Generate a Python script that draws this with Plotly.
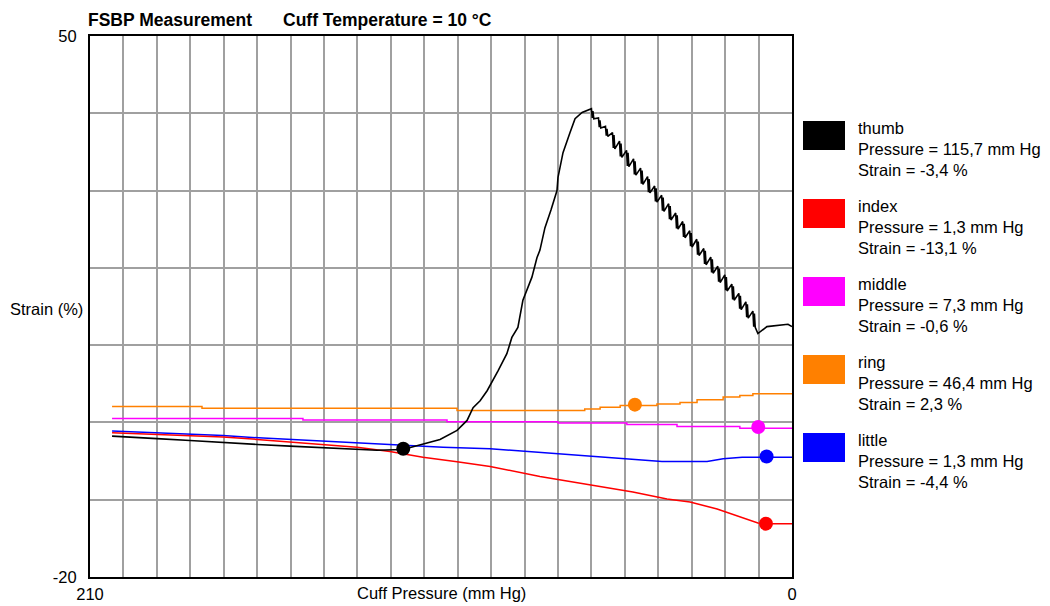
import plotly.graph_objects as go

# ---------------- data (pressure in mm Hg, strain in %) ----------------
thumb_rise_p = [203.4, 195.0, 190.0, 180.1, 170.2, 160.0, 150.2, 140.3, 130.1, 124.1, 116.4,
                110.4, 105.3, 100.2, 97.2, 95.4, 93.3, 91.2, 89.7, 87.9, 85.3, 83.8, 82.0,
                80.5, 77.8, 76.3, 75.4, 73.9, 72.1, 70.3, 70.0, 68.5, 66.4, 64.9, 62.8]
thumb_rise_s = [-1.77, -2.03, -2.10, -2.33, -2.63, -2.85, -3.06, -3.28, -3.50, -3.60, -3.50,
                -2.85, -2.20, -1.03, 0.26, 1.9, 2.8, 4.1, 5.2, 6.7, 8.9, 11.0, 12.3,
                15.8, 18.8, 21.3, 22.3, 25.2, 27.5, 30.0, 31.7, 34.9, 37.5, 39.3, 40.1]
thumb_fall_p = [60.0, 59.75, 59.55, 59.3, 57.9, 57.65, 57.45, 57.2,
                55.8, 55.55, 55.35, 55.1, 53.7, 53.45, 53.25, 53.0,
                51.6, 51.35, 51.15, 50.9, 49.5, 49.25, 49.05, 48.8,
                47.4, 47.15, 46.95, 46.7, 45.3, 45.05, 44.85, 44.6,
                43.2, 42.95, 42.75, 42.5, 41.1, 40.85, 40.65, 40.4,
                39.0, 38.75, 38.55, 38.3, 36.9, 36.65, 36.45, 36.2,
                34.8, 34.55, 34.35, 34.1, 32.7, 32.45, 32.25, 32.0,
                30.6, 30.35, 30.15, 29.9, 28.5, 28.25, 28.05, 27.8,
                26.4, 26.15, 25.95, 25.7, 24.3, 24.05, 23.85, 23.6,
                22.2, 21.95, 21.75, 21.5, 20.1, 19.85, 19.65, 19.4,
                18.0, 17.75, 17.55, 17.3, 15.9, 15.65, 15.45, 15.2,
                13.8, 13.55, 13.35, 13.1, 11.7, 11.45, 11.25, 11.0,
                10.2, 7.5, 1.2, 0.0]
thumb_fall_s = [40.6, 39.4, 40.3, 39.3, 39.4, 38.2, 39.1, 38.1,
                38.3, 37.1, 38.0, 37.0, 37.5, 35.5, 37.2, 35.4,
                36.4, 34.4, 36.1, 34.3, 35.2, 33.2, 34.9, 33.1,
                34.1, 32.1, 33.8, 32.0, 32.9, 30.9, 32.6, 30.8,
                31.8, 29.8, 31.5, 29.7, 30.6, 28.6, 30.3, 28.5,
                29.4, 27.4, 29.1, 27.3, 28.3, 26.3, 28.0, 26.2,
                27.1, 25.1, 26.8, 25.0, 26.0, 24.0, 25.7, 23.9,
                24.8, 22.8, 24.5, 22.7, 23.7, 21.7, 23.4, 21.6,
                22.5, 20.5, 22.2, 20.4, 21.4, 19.4, 21.1, 19.3,
                20.2, 18.2, 19.9, 18.1, 19.1, 17.1, 18.8, 17.0,
                17.9, 15.9, 17.6, 15.8, 16.7, 14.7, 16.4, 14.6,
                15.6, 13.6, 15.3, 13.5, 14.4, 12.4, 14.1, 12.3,
                11.5, 12.4, 12.7, 12.4]
thumb_p = thumb_rise_p + thumb_fall_p
thumb_s = thumb_rise_s + thumb_fall_s

index_p = [203.4, 185.2, 170.2, 160.0, 145.1, 130.1, 120.3, 110.4, 100.2, 90.3, 75.4,
           57.4, 47.6, 37.4, 30.5, 22.4, 15.6, 10.2, 7.8, 0.0]
index_s = [-1.34, -1.62, -1.90, -2.20, -2.70, -3.20, -3.75, -4.50, -5.10, -5.70, -7.00,
           -8.28, -9.00, -9.90, -10.30, -11.20, -12.25, -13.00, -13.10, -13.10]

middle_p = [203.4, 146.3, 103.2, 70.0, 49.4, 34.4, 15.6, 0.0]
middle_s = [0.52, 0.30, 0.09, -0.09, -0.26, -0.52, -0.74, -0.80]

ring_p = [203.4, 176.5, 100.2, 62.0, 57.4, 51.4, 40.4, 33.5, 28.4, 20.6, 15.6, 11.7, 0.0]
ring_s = [2.07, 1.85, 1.55, 1.75, 1.98, 2.20, 2.40, 2.59, 2.94, 3.30, 3.50, 3.70, 3.70]

little_p = [203.4, 185.2, 170.2, 158.2, 144.2, 125.3, 110.4, 104.4, 90.3, 74.0, 57.4,
            49.1, 42.5, 38.9, 25.4, 20.6, 14.9, 0.0]
little_s = [-1.12, -1.38, -1.68, -2.03, -2.33, -2.68, -2.98, -3.20, -3.40, -3.90, -4.49,
            -4.70, -4.90, -5.05, -5.05, -4.70, -4.49, -4.49]

names = ["thumb", "index", "middle", "ring", "little"]
colors = ["#000000", "#ff0000", "#ff00ff", "#ff8000", "#0000ff"]
marker_p = [116.3, 7.8, 10.1, 47.0, 7.6]
marker_s = [-3.4, -13.1, -0.6, 2.3, -4.4]
legend_pressure = ["115,7", "1,3", "7,3", "46,4", "1,3"]
legend_strain = ["-3,4", "-13,1", "-0,6", "2,3", "-4,4"]

x_ticks = [210, 0]
y_ticks = [50, -20]

series_p = [thumb_p, index_p, middle_p, ring_p, little_p]
series_s = [thumb_s, index_s, middle_s, ring_s, little_s]
shapes_line = ["linear", "linear", "hv", "hv", "linear"]
widths = [1.6, 1.5, 1.5, 1.5, 1.5]

# ---------------- geometry ----------------
W, H = 1050, 606
L, R, T, B = 90, 792, 36, 577
PW, PH = R - L, B - T


def px(xp):
    return (xp - L) / PW


def py(yp):
    return (B - yp) / PH


FONT = "Liberation Sans, Arial, sans-serif"
TXT = 16.5

fig = go.Figure()

# draw order: orange, magenta, blue, red, black
for i in [3, 2, 4, 1, 0]:
    fig.add_trace(go.Scatter(
        x=series_p[i], y=series_s[i], mode="lines",
        line=dict(color=colors[i], width=widths[i], shape=shapes_line[i]),
        showlegend=False, hoverinfo="skip"))

for i in range(5):
    fig.add_trace(go.Scatter(
        x=[marker_p[i]], y=[marker_s[i]], mode="markers",
        marker=dict(color=colors[i], size=14, line=dict(width=0)),
        showlegend=False, hoverinfo="skip"))

annotations = []
shapes = []

annotations.append(dict(text="<b>FSBP Measurement</b>", x=px(86), y=py(20),
                        xref="paper", yref="paper", xanchor="left", yanchor="middle",
                        showarrow=False, font=dict(family=FONT, size=17.5, color="black")))
annotations.append(dict(text="<b>Cuff Temperature = 10 °C</b>", x=px(281), y=py(20),
                        xref="paper", yref="paper", xanchor="left", yanchor="middle",
                        showarrow=False, font=dict(family=FONT, size=17.5, color="black")))
annotations.append(dict(text="Strain (%)", x=px(8), y=py(309),
                        xref="paper", yref="paper", xanchor="left", yanchor="middle",
                        showarrow=False, font=dict(family=FONT, size=TXT, color="black")))
annotations.append(dict(text="Cuff Pressure (mm Hg)", x=px(441), y=py(593),
                        xref="paper", yref="paper", xanchor="center", yanchor="middle",
                        showarrow=False, font=dict(family=FONT, size=TXT, color="black")))

for i in range(5):
    base = 128 + 78 * i
    lines = [names[i], f"Pressure = {legend_pressure[i]} mm Hg", f"Strain = {legend_strain[i]} %"]
    for k, txt in enumerate(lines):
        annotations.append(dict(text=txt, x=px(856), y=py(base + 21 * k),
                                xref="paper", yref="paper", xanchor="left", yanchor="middle",
                                showarrow=False,
                                font=dict(family=FONT, size=TXT, color="black")))
    sq_top = 121 + 78 * i
    shapes.append(dict(type="rect", xref="paper", yref="paper",
                       x0=px(803), x1=px(845), y0=py(sq_top + 29), y1=py(sq_top),
                       fillcolor=colors[i], line=dict(width=0)))

fig.update_layout(
    width=W, height=H,
    margin=dict(l=L, r=W - R, t=T, b=H - B, autoexpand=False),
    paper_bgcolor="white", plot_bgcolor="white",
    showlegend=False,
    annotations=annotations, shapes=shapes,
    font=dict(family=FONT, size=TXT, color="black"),
)
fig.update_xaxes(
    range=[210, 0], automargin=False,
    showgrid=True, gridcolor="#a0a0a0", gridwidth=2,
    zeroline=False, showline=True, mirror=True, linecolor="black", linewidth=2,
    tickmode="array", tickvals=x_ticks, ticktext=[str(v) for v in x_ticks],
    ticks="", ticklabelstandoff=1,
    tickfont=dict(family=FONT, size=TXT, color="black"),
    minor=dict(tickmode="array", tickvals=list(range(0, 211, 10)),
               showgrid=True, gridcolor="#a0a0a0", gridwidth=2, ticks=""),
)
fig.update_yaxes(
    range=[-20, 50], automargin=False,
    showgrid=True, gridcolor="#a0a0a0", gridwidth=2,
    zeroline=False, showline=True, mirror=True, linecolor="black", linewidth=2,
    tickmode="array", tickvals=y_ticks, ticktext=[str(v) for v in y_ticks],
    ticks="", ticklabelstandoff=8,
    tickfont=dict(family=FONT, size=TXT, color="black"),
    minor=dict(tickmode="array", tickvals=list(range(-20, 51, 10)),
               showgrid=True, gridcolor="#a0a0a0", gridwidth=2, ticks=""),
)

fig.write_html("out.html", config={"displayModeBar": False},
               post_script="document.body.style.margin='0px';document.body.style.overflow='hidden';")
